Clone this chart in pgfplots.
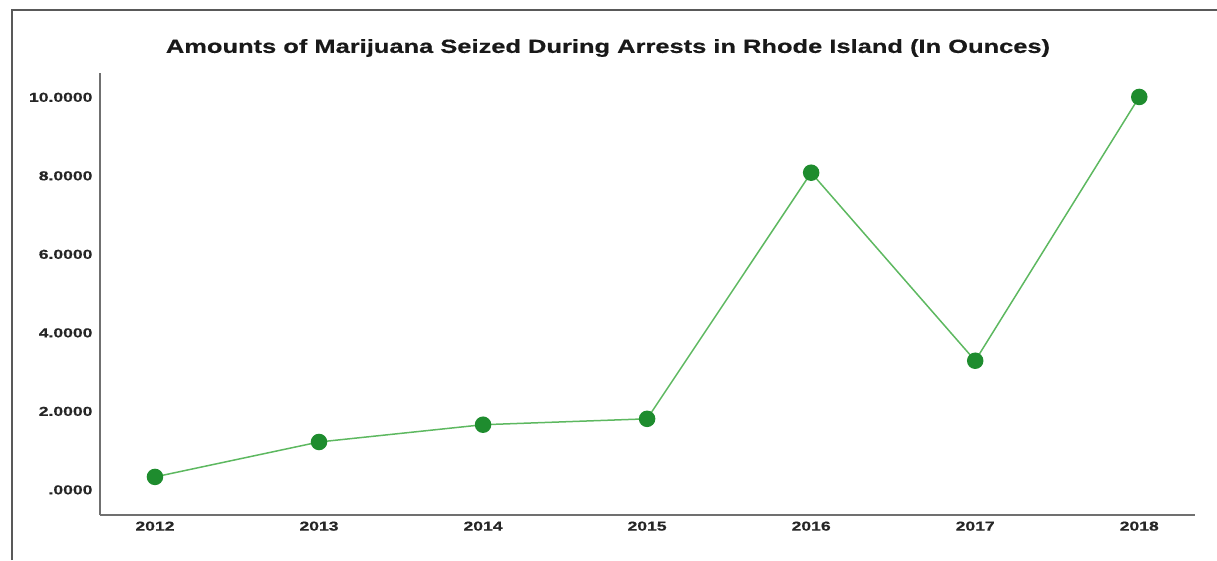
\documentclass[border=0pt]{standalone}
\usepackage{fontspec}
\setmainfont{Liberation Sans}
\newfontfamily\widetitle[FakeStretch=1.34,FakeBold=0.6]{Liberation Sans Bold}
\newfontfamily\widetick[FakeStretch=1.35,FakeBold=0.6]{Liberation Sans Bold}
\usepackage{pgfplots}
\pgfplotsset{compat=1.18}
\definecolor{markgreen}{HTML}{1E8C2E}
\definecolor{linegreen}{HTML}{5DB860}
\definecolor{axgray}{HTML}{707070}
\begin{document}
\begin{tikzpicture}[x=1pt,y=1pt]
\useasboundingbox (0,0) rectangle (1217,560);
\draw[line width=2pt,color=black!65] (12,0) -- (12,550) -- (1217,550);
\node[font=\fontsize{19}{22}\selectfont\widetitle, text=black!90] at (608,512) {Amounts of Marijuana Seized During Arrests in Rhode Island (In Ounces)};
\begin{axis}[
  at={(100pt,45pt)}, anchor=south west,
  scale only axis, width=1095pt, height=442pt,
  xmin=2011.665, xmax=2018.34,
  ymin=-0.64, ymax=10.62,
  axis x line*=bottom, axis y line*=left,
  axis line style={axgray, line width=2.2pt, -},
  xtick={2012,2013,2014,2015,2016,2017,2018},
  ytick={0,2,4,6,8,10},
  yticklabels={.0000,2.0000,4.0000,6.0000,8.0000,10.0000},
  xticklabel style={/pgf/number format/1000 sep=},
  /pgf/number format/assume math mode=true,
  major tick length=0pt,
  tick label style={font=\fontsize{13}{15}\selectfont\widetick, text=black!85},
  yticklabel style={xshift=-4pt},
  xticklabel style={yshift=-3pt},
  clip=false,
]
\addplot[linegreen, line width=1.5pt, mark=*, mark size=7.5pt,
  mark options={draw=markgreen, fill=markgreen}]
  coordinates {(2012,0.33) (2013,1.22) (2014,1.66) (2015,1.81) (2016,8.08) (2017,3.29) (2018,10.01)};
\end{axis}
\end{tikzpicture}
\end{document}
